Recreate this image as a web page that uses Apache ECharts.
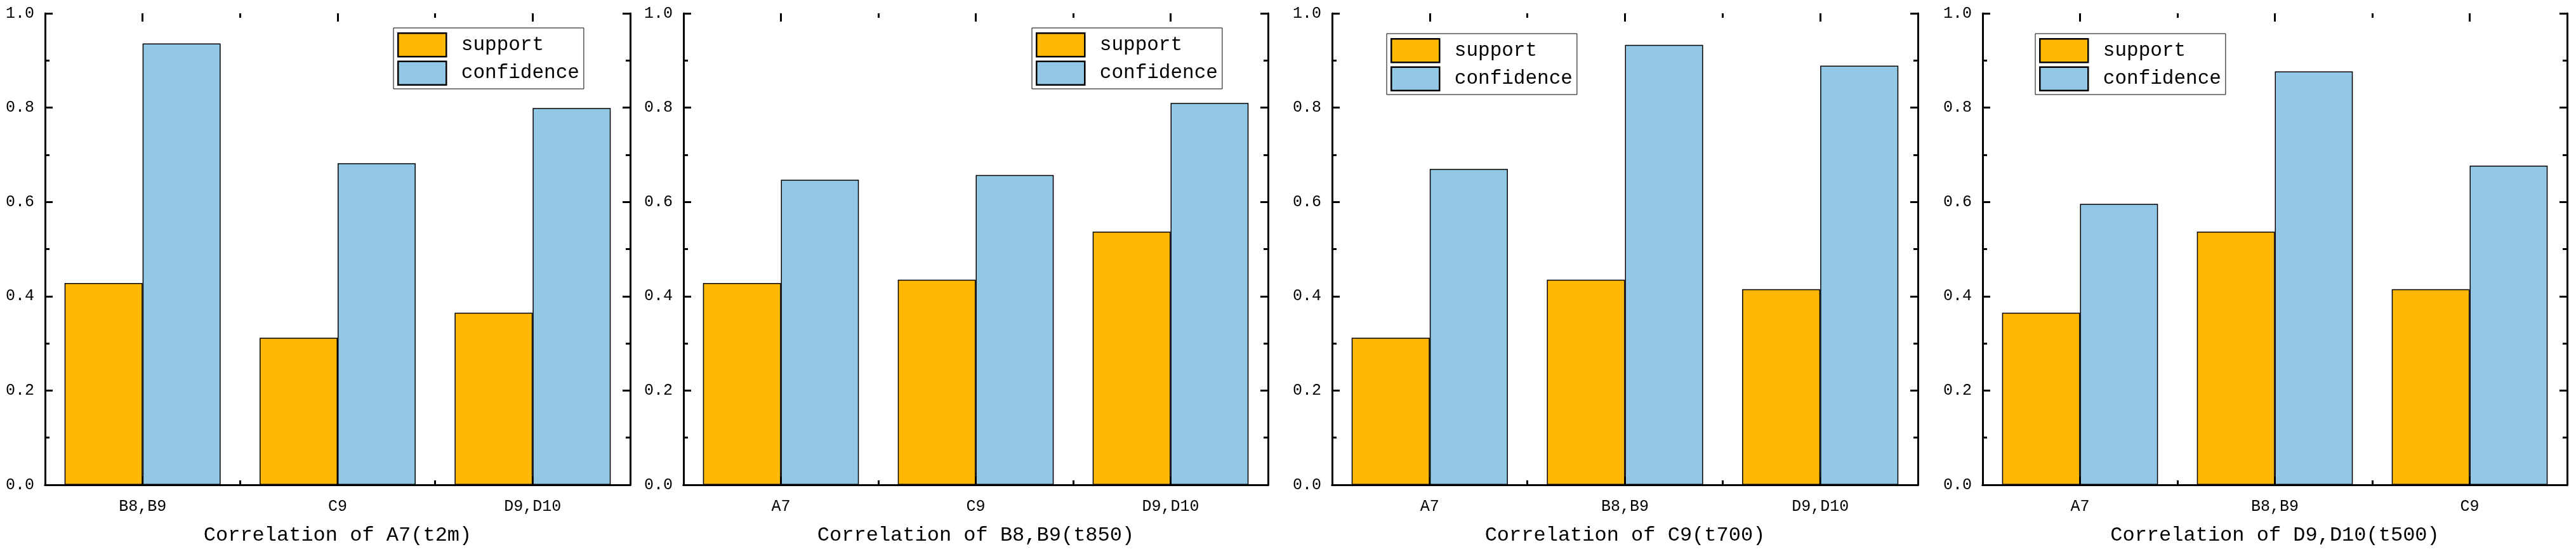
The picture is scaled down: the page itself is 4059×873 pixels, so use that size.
<!DOCTYPE html>
<html>
<head>
<meta charset="utf-8">
<script src="https://cdn.jsdelivr.net/npm/echarts@6/dist/echarts.min.js"></script>
<style>
html,body{margin:0;padding:0;background:#fff;}
#chart{width:4059px;height:873px;}
</style>
</head>
<body>
<div id="chart"></div>
<script>
// ---- data ----
const seriesNames = ['support', 'confidence'];
const panelTitles = ['Correlation of A7(t2m)', 'Correlation of B8,B9(t850)', 'Correlation of C9(t700)', 'Correlation of D9,D10(t500)'];

const categoriesA7 = ['B8,B9', 'C9', 'D9,D10'];
const supportA7 = [0.428, 0.312, 0.365];
const confidenceA7 = [0.936, 0.682, 0.799];

const categoriesB8B9 = ['A7', 'C9', 'D9,D10'];
const supportB8B9 = [0.428, 0.435, 0.537];
const confidenceB8B9 = [0.647, 0.657, 0.810];

const categoriesC9 = ['A7', 'B8,B9', 'D9,D10'];
const supportC9 = [0.312, 0.435, 0.415];
const confidenceC9 = [0.670, 0.933, 0.889];

const categoriesD9D10 = ['A7', 'B8,B9', 'C9'];
const supportD9D10 = [0.365, 0.537, 0.415];
const confidenceD9D10 = [0.596, 0.877, 0.677];

const yMin = 0, yMax = 1, yStep = 0.2;

// ---- layout / style ----
const panels = [
  {cats: categoriesA7, sup: supportA7, conf: confidenceA7},
  {cats: categoriesB8B9, sup: supportB8B9, conf: confidenceB8B9},
  {cats: categoriesC9, sup: supportC9, conf: confidenceC9},
  {cats: categoriesD9D10, sup: supportD9D10, conf: confidenceD9D10}
];
const gridLeft = [71, 1077, 2099, 3124];
const gridWidth = [922, 921, 923, 921];
const gridTop = 21, gridHeight = 743;
const legendPos = [[620, 44], [1626, 44], [2185, 53], [3207, 53]];

const FONT = 'Liberation Mono';
const ORANGE = '#FFB805';
const BLUE = '#92C8E5';
const AX = 3;

const grid = [], xAxis = [], yAxis = [], series = [], legend = [];

panels.forEach((p, i) => {
  const g = {left: gridLeft[i], width: gridWidth[i], top: gridTop, height: gridHeight, containLabel: false};
  grid.push(Object.assign({}, g));          // main grid 2i
  grid.push(Object.assign({}, g));          // overlay grid 2i+1
  const gm = 2 * i, go = 2 * i + 1;
  const xBase = xAxis.length, yBase = yAxis.length;

  // main category axis (bottom) with labels + title
  xAxis.push({
    type: 'category', gridIndex: gm, position: 'bottom', data: p.cats,
    axisLine: {show: true, lineStyle: {color: '#000', width: AX}},
    axisTick: {show: false},
    axisLabel: {color: '#000', fontFamily: FONT, fontSize: 25, margin: 22},
    splitLine: {show: false},
    name: panelTitles[i], nameLocation: 'middle', nameGap: 64,
    nameTextStyle: {color: '#000', fontFamily: FONT, fontSize: 32}
  });
  // main category axis (top) line only
  xAxis.push({
    type: 'category', gridIndex: gm, position: 'top', data: p.cats,
    axisLine: {show: true, lineStyle: {color: '#000', width: AX}},
    axisTick: {show: false}, axisLabel: {show: false}, splitLine: {show: false}
  });
  // overlay tick axes (bottom, top): ticks at boundaries (short) and centres (long)
  ['bottom', 'top'].forEach(pos => {
    xAxis.push({
      type: 'value', gridIndex: go, position: pos, min: 0, max: p.cats.length, interval: 1,
      axisLine: {show: false},
      axisTick: {show: true, inside: true, length: 7, lineStyle: {color: '#000', width: AX}},
      minorTick: {show: true, splitNumber: 2, length: 13, lineStyle: {color: '#000', width: AX}},
      axisLabel: {show: false}, splitLine: {show: false}, minorSplitLine: {show: false}
    });
  });

  // y axes
  yAxis.push({
    type: 'value', gridIndex: gm, position: 'left', min: yMin, max: yMax, interval: yStep,
    axisLine: {show: true, lineStyle: {color: '#000', width: AX}},
    axisTick: {show: true, inside: true, length: 12, lineStyle: {color: '#000', width: AX}},
    minorTick: {show: true, splitNumber: 2, length: 7, lineStyle: {color: '#000', width: AX}},
    axisLabel: {color: '#000', fontFamily: FONT, fontSize: 25, margin: 17, formatter: v => v.toFixed(1)},
    splitLine: {show: false}, minorSplitLine: {show: false}
  });
  yAxis.push({
    type: 'value', gridIndex: gm, position: 'right', min: yMin, max: yMax, interval: yStep,
    axisLine: {show: true, lineStyle: {color: '#000', width: AX}},
    axisTick: {show: true, inside: true, length: 12, lineStyle: {color: '#000', width: AX}},
    minorTick: {show: true, splitNumber: 2, length: 7, lineStyle: {color: '#000', width: AX}},
    axisLabel: {show: false}, splitLine: {show: false}, minorSplitLine: {show: false}
  });
  yAxis.push({type: 'value', gridIndex: go, min: yMin, max: yMax, show: false});

  const values = [p.sup, p.conf];
  const colors = [ORANGE, BLUE];
  seriesNames.forEach((name, k) => {
    series.push({
      type: 'bar', name: name, xAxisIndex: xBase, yAxisIndex: yBase,
      data: values[k], barGap: '0%', barCategoryGap: '20%',
      itemStyle: {color: colors[k], borderColor: '#000', borderWidth: 1.5},
      emphasis: {disabled: true}, animation: false
    });
  });

  legend.push({
    left: legendPos[i][0], top: legendPos[i][1], orient: 'vertical',
    data: seriesNames, icon: 'rect',
    itemWidth: 76, itemHeight: 37, itemGap: 5,
    padding: [7, 7, 5, 6],
    borderColor: '#000', borderWidth: 1, backgroundColor: '#fff',
    itemStyle: {borderColor: '#000', borderWidth: 2.5},
    formatter: n => ' ' + n,
    textStyle: {color: '#000', fontFamily: FONT, fontSize: 31}
  });
});

const chart = echarts.init(document.getElementById('chart'), null, {renderer: 'canvas'});
chart.setOption({
  backgroundColor: '#fff',
  animation: false,
  grid, xAxis, yAxis, series, legend
});
</script>
</body>
</html>
